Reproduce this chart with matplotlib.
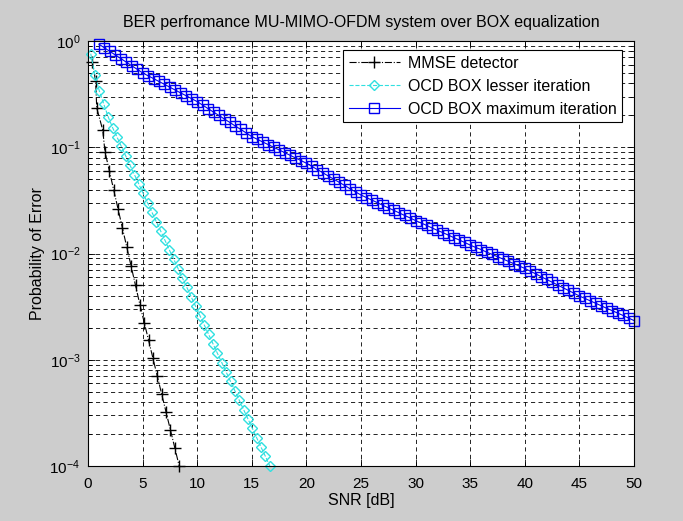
import numpy as np
from matplotlib import pyplot as plt
from matplotlib import ticker

plt.rcParams["font.family"] = ["Liberation Sans", "DejaVu Sans"]
plt.rcParams["mathtext.default"] = "regular"

title = "BER perfromance MU-MIMO-OFDM system over BOX equalization"
labels = ["MMSE detector", "OCD BOX lesser iteration", "OCD BOX maximum iteration"]

# MMSE detector
mmse_snr = [0.4, 0.7, 0.8, 1.35, 1.55, 1.95, 2.35, 2.75, 3.15, 3.55, 3.95,
            4.35, 4.75, 5.15, 5.55, 5.95, 6.35, 6.75, 7.15, 7.55, 7.95, 8.35]
mmse_ber = [0.631, 0.417, 0.234, 0.145, 0.0912, 0.0603, 0.0398, 0.0263, 0.0174,
            0.0115, 0.00759, 0.00501, 0.00331, 0.00224, 0.00152, 0.00103,
            0.000698, 0.000474, 0.000321, 0.000218, 0.000148, 0.0001]

# OCD BOX lesser iteration
ocd_low_snr = [0.25, 0.65, 1.05, 1.45, 1.85, 2.25, 2.65, 3.05, 3.45, 3.85, 4.25,
               4.65, 5.05, 5.45, 5.85, 6.25, 6.65, 7.05, 7.45, 7.85, 8.25, 8.65,
               9.05, 9.45, 9.85, 10.25, 10.65, 11.05, 11.45, 11.85, 12.25, 12.65,
               13.05, 13.45, 13.85, 14.25, 14.65, 15.05, 15.45, 15.85, 16.25, 16.65]
ocd_low_ber = [0.759, 0.475, 0.335, 0.254, 0.193, 0.153, 0.125, 0.102, 0.083,
               0.0677, 0.0553, 0.0451, 0.0368, 0.03, 0.0245, 0.02, 0.0163, 0.0133,
               0.0108, 0.00884, 0.00721, 0.00588, 0.0048, 0.00391, 0.00319, 0.0026,
               0.00212, 0.00173, 0.00141, 0.00115, 0.00094, 0.000767, 0.000625,
               0.00051, 0.000416, 0.000339, 0.000277, 0.000226, 0.000184, 0.00015,
               0.000123, 0.0001]

# OCD BOX maximum iteration (SNR 1 to 50 dB, 0.5 dB apart)
ocd_max_snr = np.arange(1.0, 50.01, 0.5)
ocd_max_ber = [0.933, 0.863, 0.799, 0.739, 0.684, 0.633, 0.585, 0.542, 0.501, 0.471,
               0.443, 0.416, 0.391, 0.367, 0.345, 0.324, 0.305, 0.286, 0.269, 0.249,
               0.231, 0.214, 0.199, 0.184, 0.171, 0.158, 0.147, 0.136, 0.126, 0.119,
               0.112, 0.106, 0.1, 0.0944, 0.0891, 0.0841, 0.0794, 0.075, 0.0708,
               0.0661, 0.0617, 0.0575, 0.0537, 0.0501, 0.0468, 0.0437, 0.0407, 0.038,
               0.0355, 0.0336, 0.0318, 0.0301, 0.0284, 0.0269, 0.0255, 0.0241, 0.0228,
               0.0216, 0.0204, 0.0194, 0.0184, 0.0174, 0.0165, 0.0157, 0.0149, 0.0141,
               0.0134, 0.0127, 0.012, 0.0114, 0.0109, 0.0103, 0.00982, 0.00933,
               0.00887, 0.00843, 0.00802, 0.00762, 0.00724, 0.00682, 0.00643, 0.00605,
               0.0057, 0.00537, 0.00506, 0.00476, 0.00449, 0.00423, 0.00398, 0.00378,
               0.00358, 0.0034, 0.00322, 0.00305, 0.0029, 0.00275, 0.00261, 0.00247,
               0.00234]

fig = plt.figure(figsize=(6.83, 5.21), dpi=100, facecolor="#cdcdcd")
ax = fig.add_axes([88 / 683, 1 - 466 / 521, 546 / 683, 425 / 521])

ax.semilogy(mmse_snr, mmse_ber, color="black", ls="-.", lw=0.8,
            marker="+", ms=9, mew=1.0, label=labels[0], clip_on=False)
ax.semilogy(ocd_low_snr, ocd_low_ber, color="#30e0e0", ls="--", lw=0.8,
            marker="D", ms=5.5, mfc="none", mew=1.0, label=labels[1], clip_on=False)
ax.semilogy(ocd_max_snr, ocd_max_ber, color="#0000f0", ls="-", lw=0.8,
            marker="s", ms=6.5, mfc="none", mew=1.0, label=labels[2], clip_on=False)

ax.set_xlim(0, 50)
ax.set_ylim(1e-4, 1)
ax.xaxis.set_major_locator(ticker.MultipleLocator(5))
ax.yaxis.set_major_locator(ticker.LogLocator(base=10, numticks=10))
ax.yaxis.set_minor_locator(ticker.LogLocator(base=10, subs=np.arange(2, 10), numticks=20))
ax.yaxis.set_minor_formatter(ticker.NullFormatter())

gridstyle = dict(color="black", lw=0.6, ls=(0, (5, 4)))
ax.grid(True, which="major", axis="x", **gridstyle)
ax.grid(True, which="both", axis="y", **gridstyle)
ax.set_axisbelow(True)

ax.tick_params(which="both", direction="in", top=True, right=True,
               labelsize=11, colors="black")
ax.tick_params(which="major", length=5, width=0.6)
ax.tick_params(which="minor", length=3, width=0.6)
ax.tick_params(axis="x", which="major", pad=8)
ax.tick_params(axis="y", which="major", pad=5.5)
for s in ax.spines.values():
    s.set_linewidth(0.8)

ax.set_title(title, fontsize=11.5, pad=10)
ax.set_xlabel("SNR [dB]", fontsize=11.5, labelpad=1)
ax.set_ylabel("Probability of Error", fontsize=11.5, labelpad=3)

leg = ax.legend(loc="upper right", bbox_to_anchor=(622 / 683, 1 - 50 / 521),
                bbox_transform=fig.transFigure, borderaxespad=0, fontsize=11.5,
                fancybox=False, edgecolor="black", framealpha=1,
                handlelength=3.2, labelspacing=0.5, borderpad=0.35,
                handletextpad=0.5)
leg.get_frame().set_linewidth(0.8)

fig.savefig("out.png", facecolor=fig.get_facecolor())
